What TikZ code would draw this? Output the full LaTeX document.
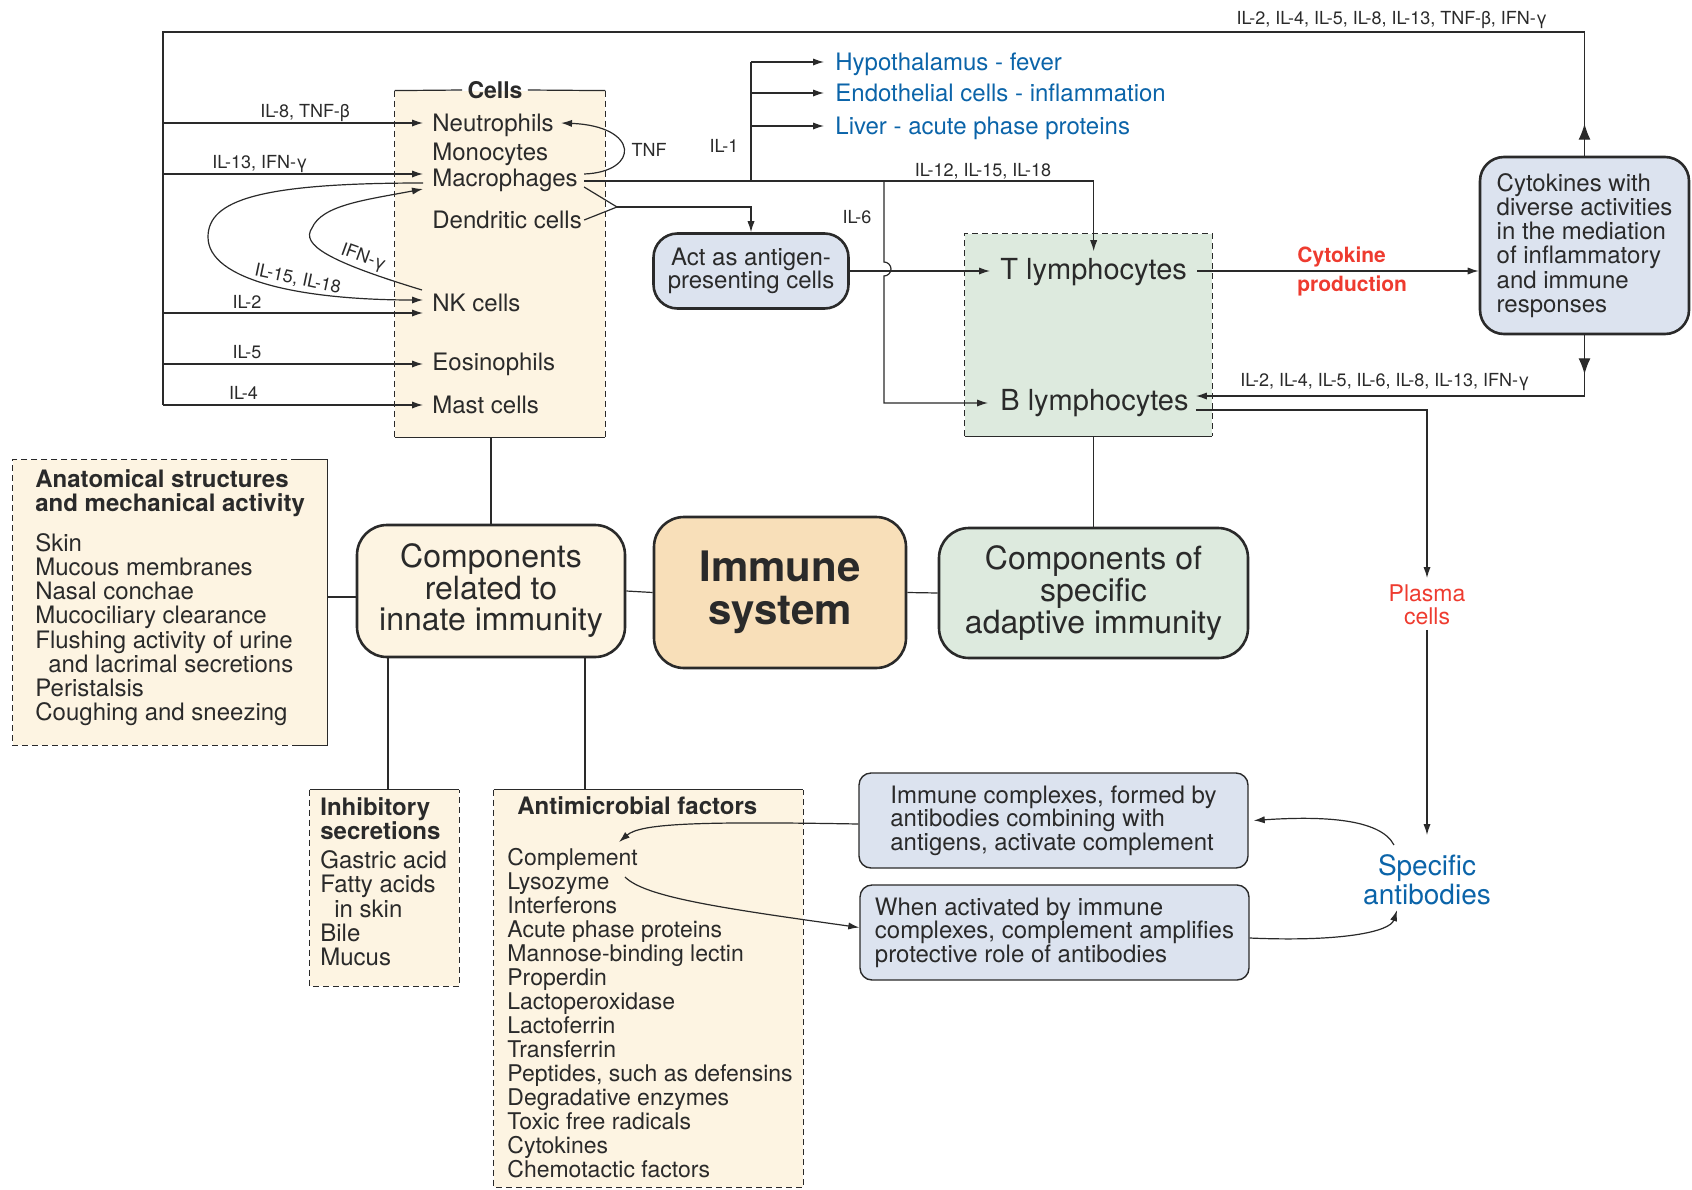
\documentclass[tikz,border=0pt]{standalone}
\usepackage{fontspec}
\setmainfont{TeX Gyre Heros}
\usetikzlibrary{arrows.meta}
\definecolor{cream}{HTML}{FDF4E2}
\definecolor{immune}{HTML}{F8DFB9}
\definecolor{adapt}{HTML}{DDEADE}
\definecolor{note}{HTML}{DCE3EF}
\definecolor{organ}{HTML}{0B64A9}
\definecolor{cytored}{HTML}{EE3B2F}
\definecolor{ink}{HTML}{2A2A2A}

\tikzset{
  ln/.style={draw=ink, line width=0.6pt},
  dsh/.style={dash pattern=on 3pt off 2pt},
  arr/.style={ln, -{Latex[length=5.5pt,width=3.6pt]}},
  bigarr/.style={ln, -{Latex[length=8pt,width=6pt]}},
  lbl/.style={font=\fontsize{9}{10}\selectfont, inner sep=0pt, text height=6.45pt, text depth=0pt},
  cell/.style={font=\fontsize{12}{14}\selectfont, anchor=west, inner sep=0pt, text height=8.6pt, text depth=0pt},
  lymph/.style={font=\fontsize{14.5}{16}\selectfont, anchor=west, inner sep=0pt, text height=10.4pt, text depth=0pt},
  panel/.style={fill=cream, inner sep=0pt},
  listtxt/.style={align=left, anchor=base west, inner sep=0pt},
  roundbox/.style={rounded corners=12pt, draw=ink, line width=1.3pt, align=center, inner sep=0pt},
  noteb/.style={rounded corners=6pt, draw=ink, line width=0.7pt, fill=note, align=left,
    font=\fontsize{12}{11.75}\selectfont, minimum width=194.5pt, minimum height=47.5pt, inner sep=0pt},
}

\begin{document}
\begin{tikzpicture}[x=0.5pt, y=-0.5pt, every node/.append style={text=ink}]
  \useasboundingbox (0,0) rectangle (1692,1189);

  \node[panel, minimum width=105pt, minimum height=173pt] (cells) at (500,264) {};
  \node[panel, fill=adapt, minimum width=123.5pt, minimum height=101pt] (tb) at (1088.5,335) {};
  \node[panel, minimum width=157pt, minimum height=142.5pt] (ana) at (170,602.5) {};
  \node[panel, minimum width=74.5pt, minimum height=98pt] (inh) at (384.5,888) {};
  \node[panel, minimum width=154.5pt, minimum height=198.5pt] (amf) at (648.5,988.5) {};

  \node[font=\fontsize{11.5}{12}\selectfont\bfseries, inner sep=0pt, inner xsep=2.5pt, text height=8.2pt, text depth=0pt] (cellsT) at (495,90) {Cells};
  \draw[ln, dsh] (cells.north west) -- (cells.south west) (cells.north east) -- (cells.south east);
  \draw[ln] (cells.south west) -- (cells.south east);
  \draw[ln] (cells.north west) -- (cellsT.west) (cellsT.east) -- (cells.north east);
  \draw[ln, dsh] (tb.south west) -- (tb.north west) -- (tb.north east) -- (tb.south east);
  \draw[ln] (tb.south west) -- (tb.south east);
  \draw[ln, dsh] (ana.north east) -- (ana.north west) -- (ana.south west) -- (ana.south east);
  \draw[ln] ([xshift=-17.5pt]ana.north east) -- (ana.north east) -- (ana.south east) -- ([xshift=-17.5pt]ana.south east);
  \draw[ln, dsh] (inh.north west) -- (inh.south west) -- (inh.south east) -- (inh.north east);
  \draw[ln] (inh.north west) -- (inh.north east);
  \draw[ln, dsh] (amf.north west) -- (amf.south west) -- (amf.south east) -- (amf.north east);
  \draw[ln] (amf.north west) -- (amf.north east);

  \node[cell] (neu) at (432,123) {Neutrophils};
  \node[cell] (mono) at (432,152) {Monocytes};
  \node[cell] (mac) at (432,178) {Macrophages};
  \node[cell] (dend) at (432,220) {Dendritic cells};
  \node[cell] (nk) at (432,303) {NK cells};
  \node[cell] (eos) at (432,362) {Eosinophils};
  \node[cell] (mast) at (432,405) {Mast cells};

  \node[cell, text=organ] (hyp) at (835,62) {Hypothalamus - fever};
  \node[cell, text=organ] (endo) at (835,93) {Endothelial cells - inflammation};
  \node[cell, text=organ] (liver) at (835,126) {Liver - acute phase proteins};

  \node[roundbox, fill=note, minimum width=97.5pt, minimum height=37.5pt, font=\fontsize{12}{11.5}\selectfont] (apc) at (751,271) {Act as antigen-\\presenting cells};
  \node[lymph] (tly) at (1000,269) {T lymphocytes};
  \node[lymph] (bly) at (1000,400) {B lymphocytes};
  \node[roundbox, fill=note, align=left, minimum width=104.5pt, minimum height=88.5pt, font=\fontsize{12}{12.1}\selectfont] (cyto) at (1584.5,245.5) {Cytokines with\\diverse activities\\in the mediation\\of inflammatory\\and immune\\responses};
  \node[listtxt, font=\fontsize{10.5}{14.5}\selectfont\bfseries, text=cytored] (crp) at (1297,291.5) {Cytokine\\production};

  \node[roundbox, rounded corners=15pt, fill=immune, minimum width=126pt, minimum height=75.5pt, font=\fontsize{21}{21.5}\selectfont\bfseries] (isys) at (780,592.5) {Immune\\system};
  \node[roundbox, rounded corners=15pt, fill=cream, minimum width=134pt, minimum height=66pt, font=\fontsize{16}{15.75}\selectfont] (inn) at (491,591) {Components\\related to\\innate immunity};
  \node[roundbox, rounded corners=15pt, fill=adapt, minimum width=154.5pt, minimum height=65pt, font=\fontsize{16}{16}\selectfont] (adp) at (1093.5,593) {Components of\\specific\\adaptive immunity};

  \node[listtxt, font=\fontsize{12}{12}\selectfont\bfseries] (anaT) at (35,511.6) {Anatomical structures\\and mechanical activity};
  \node[listtxt, font=\fontsize{12}{12.05}\selectfont] (anaL) at (35,720.3) {Skin\\Mucous membranes\\Nasal conchae\\Mucociliary clearance\\Flushing activity of urine\\\hspace*{6.5pt}and lacrimal secretions\\Peristalsis\\Coughing and sneezing};
  \node[listtxt, font=\fontsize{12}{11.75}\selectfont\bfseries] (inhT) at (320,839.1) {Inhibitory\\secretions};
  \node[listtxt, font=\fontsize{12}{12.1}\selectfont] (inhL) at (320,965.4) {Gastric acid\\Fatty acids\\\hspace*{7pt}in skin\\Bile\\Mucus};
  \node[listtxt, font=\fontsize{12}{12}\selectfont\bfseries] (amfT) at (517,814.6) {Antimicrobial factors};
  \node[listtxt, font=\fontsize{11.5}{12}\selectfont] (amfL) at (507,1177.2) {Complement\\Lysozyme\\Interferons\\Acute phase proteins\\Mannose-binding lectin\\Properdin\\Lactoperoxidase\\Lactoferrin\\Transferrin\\Peptides, such as defensins\\Degradative enzymes\\Toxic free radicals\\Cytokines\\Chemotactic factors};

  \node[font=\fontsize{11.5}{11.5}\selectfont, text=cytored, align=center, anchor=north, inner sep=0pt] (plas) at (1427,584) {Plasma\\cells};
  \node[font=\fontsize{14}{14.5}\selectfont, text=organ, align=center, anchor=north, inner sep=0pt] (spec) at (1427,854) {Specific\\antibodies};
  \node[noteb] (b1) at (1053.5,820.5) {Immune complexes, formed by\\antibodies combining with\\antigens, activate complement};
  \node[noteb] (b2) at (1054.5,932.5) {When activated by immune\\complexes, complement amplifies\\protective role of antibodies};

  \coordinate (bus) at (163,32);
  \coordinate (inNeu) at ([xshift=-4.5pt]neu.west);
  \coordinate (inMac) at ([shift={(-4.5pt,2pt)}]mac.west);
  \coordinate (inNK) at ([shift={(-4.5pt,-5pt)}]nk.west);
  \coordinate (inEos) at ([shift={(-4.5pt,-1pt)}]eos.west);
  \coordinate (inMast) at ([xshift=-4.5pt]mast.west);
  \draw[ln] (cyto.north) -- (cyto.north |- bus) -- (bus) -- (bus |- inMast);
  \draw[bigarr] (cyto.north) -- ++(0,-32);
  \node[lbl] (topL) at (1392,18) {IL-2, IL-4, IL-5, IL-8, IL-13, TNF-β, IFN-γ};
  \draw[arr] (bus |- inNeu) -- node[lbl, above=2.5pt, pos=0.546] (l8) {IL-8, TNF-β} (inNeu);
  \draw[arr] (bus |- inMac) -- node[lbl, above=2.5pt, pos=0.373] (l13) {IL-13, IFN-γ} (inMac);
  \draw[arr] (bus |- inNK) -- node[lbl, above=2pt, pos=0.323] (l2) {IL-2} (inNK);
  \draw[arr] (bus |- inEos) -- node[lbl, above=2.5pt, pos=0.323] (l5) {IL-5} (inEos);
  \draw[arr] (bus |- inMast) -- node[lbl, above=2.5pt, pos=0.31] (l4) {IL-4} (inMast);

  \coordinate (macA) at ([shift={(-4.5pt,-2.5pt)}]mac.west);
  \coordinate (macB) at ([shift={(-4.5pt,-5.5pt)}]mac.west);
  \coordinate (nkA) at ([shift={(-4.5pt,1.5pt)}]nk.west);
  \coordinate (nkB) at ([shift={(-5pt,6.5pt)}]nk.west);
  \draw[arr] (macA) .. controls (260,183) and (208,200) .. (208,237) .. controls (208,280) and (300,300) .. (nkA);
  \draw[arr] (nkB) .. controls (330,262) and (300,245) .. (312,228) .. controls (322,205) and (365,200) .. (macB);
  \node[lbl, rotate=-12] (l15) at (298,278) {IL-15, IL-18};
  \node[lbl, rotate=-20] (lifn) at (364,256) {IFN-γ};

  \coordinate (macC) at ([shift={(3pt,2pt)}]mac.east);
  \coordinate (neuC) at ([xshift=3.5pt]neu.east);
  \draw[arr] (macC) .. controls (640,172) and (640,126) .. (neuC);
  \node[lbl] (ltnf) at (649,150) {TNF};

  \coordinate (macD) at ([shift={(3pt,-1.5pt)}]mac.east);
  \coordinate (macE) at ([shift={(3pt,-4.5pt)}]mac.east);
  \coordinate (dendE) at ([xshift=1pt]dend.east);
  \coordinate (brk) at (617,207);
  \draw[ln] (macE) -- (brk) -- (dendE);
  \draw[arr] (brk) -| (apc.north);

  \draw[arr] (macD) -| ([yshift=3.5pt]tly.north);
  \node[lbl] (l12) at (983,170) {IL-12, IL-15, IL-18};
  \draw[ln] (apc.north |- macD) -- (apc.north |- hyp.west);
  \draw[arr] (apc.north |- hyp.west) -- ([xshift=-5.5pt]hyp.west);
  \draw[arr] (apc.north |- endo.west) -- ([xshift=-5.5pt]endo.west);
  \draw[arr] (apc.north |- liver.west) -- ([xshift=-5.5pt]liver.west);
  \node[lbl] (l1) at (724,146) {IL-1};

  \coordinate (hop) at (884,262);
  \coordinate (inB) at ([shift={(-6pt,-1.5pt)}]bly.west);
  \draw[arr] (macD -| hop) -- (hop) arc[start angle=90, end angle=-90, radius=3.5pt] -- (hop |- inB) -- (inB);
  \node[lbl] (l6) at (857,217) {IL-6};

  \coordinate (inT) at ([xshift=-5pt]tly.west);
  \draw[arr] (apc.east) -- (apc.east -| inT);
  \coordinate (outT) at ([shift={(5pt,-1pt)}]tly.east);
  \draw[arr] (outT) -- (outT -| cyto.west);

  \coordinate (inB2) at ([shift={(3.5pt,2pt)}]bly.east);
  \draw[arr] (cyto.south) |- (inB2);
  \draw[bigarr] (cyto.south) -- ++(0,39);
  \node[lbl] (lbot) at (1385,380) {IL-2, IL-4, IL-5, IL-6, IL-8, IL-13, IFN-γ};

  \coordinate (outB) at ([shift={(3.5pt,-5pt)}]bly.east);
  \draw[arr] (outB) -| ([yshift=3pt]plas.north);
  \draw[arr] ([yshift=-2.5pt]plas.south) -- ([yshift=9.5pt]spec.north);

  \draw[arr] ([shift={(-16.5pt,4.5pt)}]spec.north) .. controls (1380,818) and (1320,816) .. ([xshift=2.5pt]b1.east);
  \draw[arr] ([yshift=-2.75pt]b2.east) .. controls (1340,942) and (1390,932) .. ([shift={(-15pt,-2.5pt)}]spec.south);
  \coordinate (cmpIn) at (619,842);
  \coordinate (lysOut) at (625,877);
  \draw[arr] ([yshift=-1.75pt]b1.west) .. controls (690,821) and (640,824) .. (cmpIn);
  \draw[arr] (lysOut) .. controls (645,897) and (720,908) .. ([yshift=2.5pt]b2.west);

  \draw[ln] (inn.north) -- (inn.north |- cells.south);
  \draw[ln] (adp.north) -- (adp.north |- tb.south);
  \draw[ln] (inn.east) -- (isys.west);
  \draw[ln] (isys.east) -- (adp.west);
  \draw[ln] ([yshift=-3pt]inn.west) -- ([yshift=-3pt]inn.west -| ana.east);
  \coordinate (innL) at ([xshift=-51.5pt]inn.south);
  \coordinate (innR) at ([xshift=47pt]inn.south);
  \draw[ln] (innL) -- (innL |- inh.north);
  \draw[ln] (innR) -- (innR |- amf.north);
\end{tikzpicture}
\end{document}
